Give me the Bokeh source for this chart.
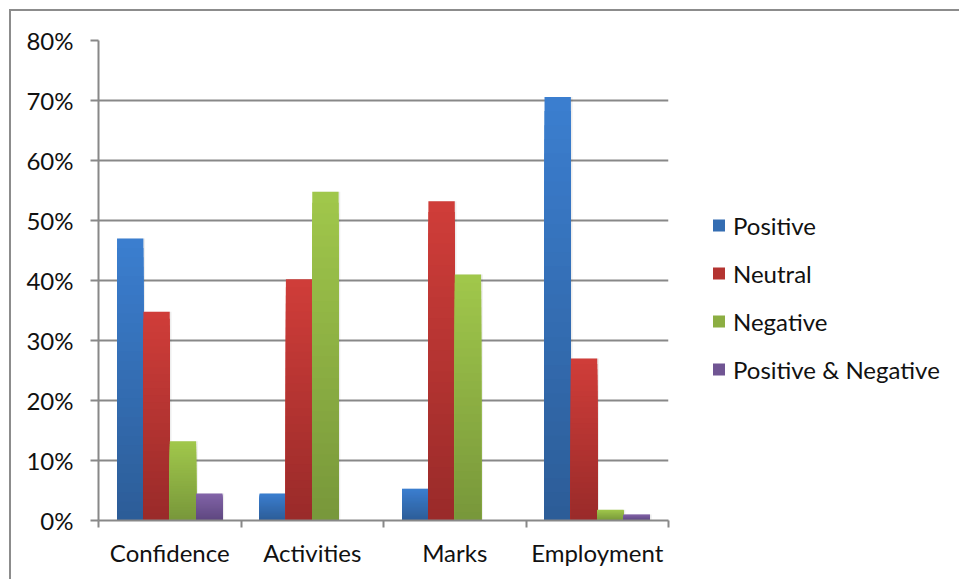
from bokeh.plotting import figure
from bokeh.models import (ColumnDataSource, FixedTicker, NumeralTickFormatter,
                          Legend, LegendItem, Range1d)
from bokeh.transform import dodge
from bokeh.embed import file_html
from bokeh.resources import INLINE

# Survey outcome shares per area
categories = ["Confidence", "Activities", "Marks", "Employment"]
series = ["Positive", "Neutral", "Negative", "Positive & Negative"]
positive = [0.470, 0.045, 0.053, 0.706]
neutral = [0.348, 0.402, 0.532, 0.270]
negative = [0.132, 0.548, 0.410, 0.018]
pos_neg = [0.045, 0.0, 0.0, 0.010]
y_ticks = [0.0, 0.1, 0.2, 0.3, 0.4, 0.5, 0.6, 0.7, 0.8]

values = [positive, neutral, negative, pos_neg]
# (top colour, bottom colour) of each series' vertical gradient
gradients = [("#3b7ecf", "#2c5c96"),
             ("#cf3d39", "#982a29"),
             ("#a0c74b", "#77963a"),
             ("#8264a8", "#5d467e")]

FONT = "Lato"
FONT_SIZE = "24px"
GRID = "#888888"
BAR_W = 0.185
N_BANDS = 30

p = figure(frame_width=570, frame_height=480, output_backend="svg",
           toolbar_location=None,
           x_range=Range1d(0, len(categories)), y_range=Range1d(0, 0.8),
           min_border_left=87, min_border_right=0, min_border_top=29,
           min_border_bottom=59, outline_line_color=None,
           background_fill_color="white", border_fill_color="white")
p.styles = {"margin-left": "9px", "margin-top": "9px",
            "border-left": "2px solid #8c8c8c", "border-top": "2px solid #8c8c8c"}

centers = [i + 0.5 for i in range(len(categories))]


def mix(c1, c2, t):
    a = [int(c1[k:k + 2], 16) for k in (1, 3, 5)]
    b = [int(c2[k:k + 2], 16) for k in (1, 3, 5)]
    return "#%02x%02x%02x" % tuple(round(a[i] + (b[i] - a[i]) * t) for i in range(3))


legend_items = []
for j, (name, vals, (top_c, bot_c)) in enumerate(zip(series, values, gradients)):
    offset = (j - 1.5) * BAR_W
    # soft shadow to the right of each bar
    sh = ColumnDataSource(dict(x=centers, top=vals))
    p.vbar(x=dodge("x", offset + 0.012, range=p.x_range), top="top", bottom=0,
           width=BAR_W, source=sh, fill_color="#000000", fill_alpha=0.07,
           line_color=None)
    mid_renderer = None
    # gradient: draw progressively shorter bars, each covering the lower part
    for k in range(N_BANDS, 0, -1):
        frac = k / N_BANDS
        color = mix(top_c, bot_c, 1 - frac)
        src = ColumnDataSource(dict(x=centers, top=[v * frac for v in vals]))
        r = p.vbar(x=dodge("x", offset, range=p.x_range), top="top", bottom=0,
                   width=BAR_W, source=src, fill_color=color, line_color=None)
        if k == N_BANDS // 2:
            mid_renderer = r
    legend_items.append(LegendItem(label=name, renderers=[mid_renderer]))

# y axis
p.yaxis.ticker = FixedTicker(ticks=y_ticks)
p.yaxis.formatter = NumeralTickFormatter(format="0%")
p.yaxis.axis_line_color = GRID
p.yaxis.axis_line_width = 2
p.yaxis.major_tick_line_color = GRID
p.yaxis.major_tick_line_width = 2
p.yaxis.major_tick_out = 8
p.yaxis.major_tick_in = 0
p.yaxis.minor_tick_line_color = None
p.yaxis.major_label_standoff = 17
p.yaxis.major_label_text_font = FONT
p.yaxis.major_label_text_font_size = FONT_SIZE
p.yaxis.major_label_text_color = "#111111"

# x axis: labels at category centres, ticks at the boundaries
p.xaxis.ticker = FixedTicker(ticks=centers, minor_ticks=list(range(len(categories) + 1)))
p.xaxis.major_label_overrides = {c: name for c, name in zip(centers, categories)}
p.xaxis.major_tick_line_color = None
p.xaxis.minor_tick_line_color = GRID
p.xaxis.minor_tick_line_width = 2
p.xaxis.minor_tick_out = 7
p.xaxis.minor_tick_in = 0
p.xaxis.axis_line_color = GRID
p.xaxis.axis_line_width = 2
p.xaxis.major_label_standoff = 10
p.xaxis.major_label_text_font = FONT
p.xaxis.major_label_text_font_size = FONT_SIZE
p.xaxis.major_label_text_color = "#111111"

p.xgrid.grid_line_color = None
p.ygrid.ticker = FixedTicker(ticks=y_ticks)
p.ygrid.grid_line_color = GRID
p.ygrid.grid_line_width = 2

legend = Legend(items=legend_items, location="left", orientation="vertical",
                glyph_width=15, glyph_height=15, label_standoff=7, spacing=19,
                padding=0, margin=43, border_line_color=None,
                title=" ", title_text_font_size=FONT_SIZE, title_standoff=6,
                background_fill_alpha=0, label_text_font=FONT,
                label_text_font_size=FONT_SIZE, label_text_color="#111111")
p.add_layout(legend, "right")

open("out.html", "w").write(file_html(p, INLINE))
